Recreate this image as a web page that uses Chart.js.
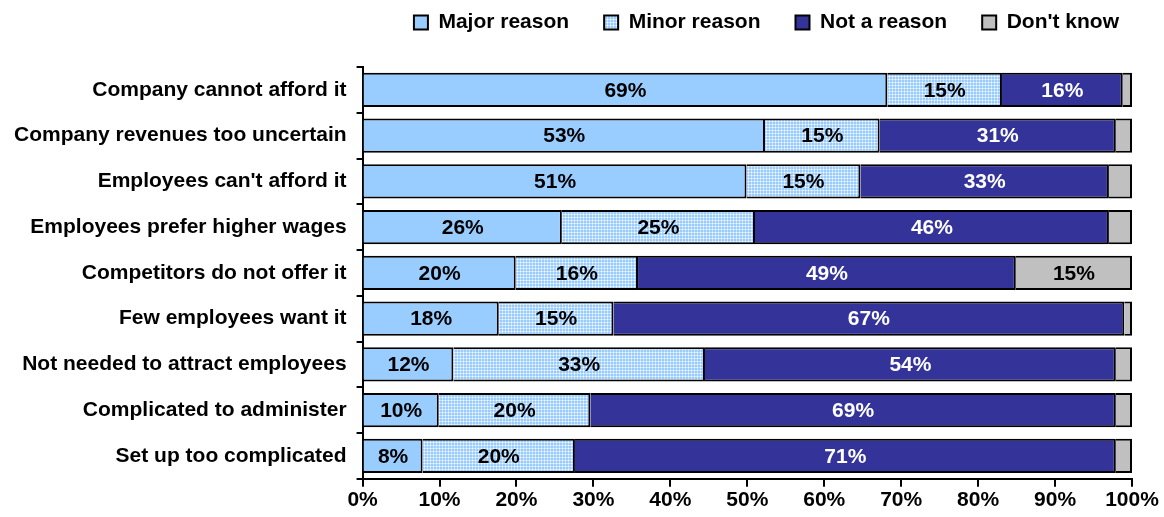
<!DOCTYPE html>
<html>
<head>
<meta charset="utf-8">
<script src="https://cdn.jsdelivr.net/npm/chart.js@4"></script>
<style>
  body { margin: 0; background: #fff; }
  #wrap { width: 1164px; height: 517px; }
</style>
</head>
<body>
<div id="wrap"><canvas id="myChart" width="1164" height="517"></canvas></div>
<script>
// categories, top to bottom
const categories = [
    'Company cannot afford it',
    'Company revenues too uncertain',
    "Employees can't afford it",
    'Employees prefer higher wages',
    'Competitors do not offer it',
    'Few employees want it',
    'Not needed to attract employees',
    'Complicated to administer',
    'Set up too complicated'
];

// segment lengths (percent)
const majorReason = [68.2, 52.3, 49.9, 25.9, 19.9, 17.7, 11.8, 9.9, 7.8];
const minorReason = [14.9, 14.9, 14.8, 25.1, 15.9, 14.9, 32.7, 19.7, 19.8];
const notAReason = [15.7, 30.7, 32.3, 46.0, 49.1, 66.4, 53.4, 68.3, 70.3];
const dontKnow = [1.2, 2.1, 3.0, 3.0, 15.1, 1.0, 2.1, 2.1, 2.1];

// printed labels
const majorLabels = ['69%', '53%', '51%', '26%', '20%', '18%', '12%', '10%', '8%'];
const minorLabels = ['15%', '15%', '15%', '25%', '16%', '15%', '33%', '20%', '20%'];
const notLabels = ['16%', '31%', '33%', '46%', '49%', '67%', '54%', '69%', '71%'];
const dkLabels = ['', '', '', '', '15%', '', '', '', ''];

const xTicks = [0, 10, 20, 30, 40, 50, 60, 70, 80, 90, 100];

// dotted fill for "Minor reason"
function dotPattern() {
    const c = document.createElement('canvas');
    c.width = 3; c.height = 3;
    const g = c.getContext('2d');
    g.fillStyle = '#99ccff';
    g.fillRect(0, 0, 3, 3);
    g.fillStyle = '#c4e2ff';
    g.fillRect(1, 0, 1, 3);
    g.fillRect(0, 1, 3, 1);
    g.fillStyle = '#ffffff';
    g.fillRect(1, 1, 1, 1);
    return document.createElement('canvas').getContext('2d').createPattern(c, 'repeat');
}

const FONT = 'Liberation Sans, Arial, sans-serif';

// writes the percentage in the middle of each segment
const segmentLabels = {
    id: 'segmentLabels',
    afterDatasetsDraw(chart) {
        const ctx = chart.ctx;
        ctx.save();
        ctx.font = 'bold 21px ' + FONT;
        ctx.textAlign = 'center';
        ctx.textBaseline = 'middle';
        chart.data.datasets.forEach((ds, i) => {
            const meta = chart.getDatasetMeta(i);
            meta.data.forEach((bar, j) => {
                const txt = ds.segLabels[j];
                if (!txt) return;
                const p = bar.getProps(['x', 'y', 'base'], true);
                ctx.fillStyle = ds.labelColor;
                ctx.fillText(txt, (p.x + p.base) / 2, p.y + 1);
            });
        });
        ctx.restore();
    }
};

// extra gap under the legend
const legendGap = {
    id: 'legendGap',
    beforeInit(chart) {
        const fit = chart.legend.fit;
        chart.legend.fit = function () {
            fit.call(this);
            this.height += 24;
        };
    }
};

const data = {
    labels: categories,
    datasets: [
        { label: 'Major reason', data: majorReason, segLabels: majorLabels, labelColor: '#000',
          backgroundColor: '#99ccff' },
        { label: 'Minor reason', data: minorReason, segLabels: minorLabels, labelColor: '#000',
          backgroundColor: dotPattern() },
        { label: 'Not a reason', data: notAReason, segLabels: notLabels, labelColor: '#fff',
          backgroundColor: '#333399' },
        { label: "Don't know", data: dontKnow, segLabels: dkLabels, labelColor: '#000',
          backgroundColor: '#c0c0c0' }
    ]
};
data.datasets.forEach(ds => {
    ds.borderColor = '#000';
    ds.borderWidth = 2;
    ds.barPercentage = 0.75;
    ds.categoryPercentage = 1;
});

const options = {
    indexAxis: 'y',
    responsive: false,
    animation: false,
    layout: { padding: { top: -23, right: 10, bottom: 3, left: 4 } },
    plugins: {
        legend: {
            position: 'top',
            align: 'end',
            labels: {
                color: '#000',
                font: { family: FONT, size: 21, weight: 'bold', lineHeight: 0.8 },
                boxWidth: 14,
                boxHeight: 14,
                padding: 35
            }
        },
        tooltip: { enabled: false }
    },
    scales: {
        x: {
            stacked: true,
            min: 0,
            max: 100,
            afterBuildTicks: s => { s.ticks = xTicks.map(v => ({ value: v })); },
            afterFit: s => { s.paddingRight = 32; },
            ticks: {
                color: '#000',
                padding: 1,
                font: { family: FONT, size: 21, weight: 'bold' },
                callback: v => v + '%'
            },
            grid: { drawOnChartArea: false, color: '#000', lineWidth: 2, tickLength: 8 },
            border: { color: '#000', width: 2 }
        },
        y: {
            stacked: true,
            ticks: {
                color: '#000',
                padding: 10,
                font: { family: FONT, size: 21, weight: 'bold' }
            },
            grid: { drawOnChartArea: false, offset: true, color: '#000', lineWidth: 2, tickLength: 6 },
            border: { color: '#000', width: 2 }
        }
    }
};

const ctx = document.getElementById('myChart').getContext('2d');
const myChart = new Chart(ctx, {
    type: 'bar',
    data: data,
    options: options,
    plugins: [segmentLabels, legendGap]
});
</script>
</body>
</html>
